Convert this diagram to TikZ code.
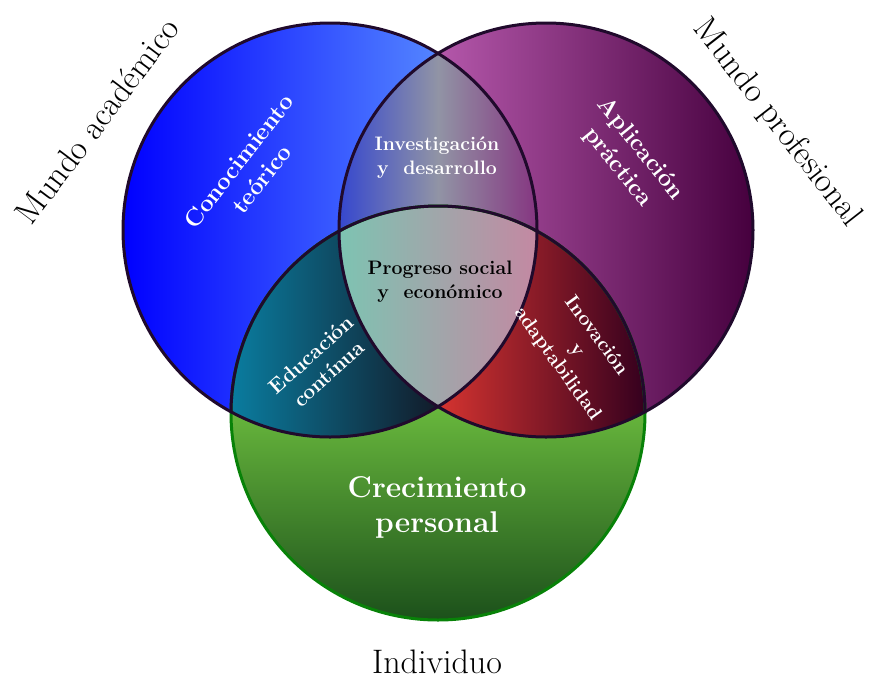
\documentclass[tikz,border=0pt]{standalone}
\usepackage{fontspec}
\definecolor{bordeoscuro}{RGB}{32,10,44}
\definecolor{bordeverde}{RGB}{8,130,8}
\definecolor{azulizq}{RGB}{0,0,255}
\definecolor{azulder}{RGB}{110,175,255}
\definecolor{moradoizq}{RGB}{215,115,205}
\definecolor{moradoder}{RGB}{70,0,62}
\definecolor{verdearriba}{RGB}{112,194,64}
\definecolor{verdeabajo}{RGB}{26,78,26}
\definecolor{lenteazul}{RGB}{12,36,225}
\definecolor{lentegris}{RGB}{145,148,165}
\definecolor{lentemorado}{RGB}{128,10,112}
\definecolor{centroizq}{RGB}{125,196,178}
\definecolor{centroder}{RGB}{196,136,162}
\definecolor{tealizq}{RGB}{10,125,160}
\definecolor{tealder}{RGB}{18,26,40}
\definecolor{rojoizq}{RGB}{215,52,48}
\definecolor{rojoder}{RGB}{52,0,30}
\pgfdeclarehorizontalshading{lente}{100bp}{color(0bp)=(lenteazul); color(14bp)=(lenteazul);
    color(32bp)=(lenteazul!50!lentegris); color(50bp)=(lentegris); color(68bp)=(lentegris!50!lentemorado);
    color(86bp)=(lentemorado); color(100bp)=(lentemorado)}
\tikzset{
    borde/.style = {line width = 3pt, draw = bordeoscuro},
    etiqueta/.style = {text = white, font = \bfseries, align = center},
    exterior/.style = {text = black, align = center, font = \fontsize{34}{40}\selectfont}
}
\newcommand{\radio}{207}
\begin{document}
\begin{tikzpicture}[x = 1pt, y = -1pt]
    \useasboundingbox (0,0) rectangle (870,681);
    \coordinate (academico) at (330,230);
    \coordinate (profesional) at (546,230);
    \coordinate (individuo) at (438,413);
    % circulos
    \shade[left color = azulizq, right color = azulder] (academico) circle (\radio);
    \shade[left color = moradoizq, right color = moradoder] (profesional) circle (\radio);
    \begin{scope}
        \clip (individuo) circle (\radio);
        \shade[top color = verdearriba, bottom color = verdeabajo] (225,385) rectangle (655,625);
    \end{scope}
    % intersecciones
    \begin{scope}
        \clip (academico) circle (\radio);
        \clip (profesional) circle (\radio);
        \shade[shading = lente] (338,20) rectangle (538,440);
    \end{scope}
    \begin{scope}
        \clip (academico) circle (\radio);
        \clip (individuo) circle (\radio);
        \shade[left color = tealizq, right color = tealder] (230,205) rectangle (440,435);
    \end{scope}
    \begin{scope}
        \clip (profesional) circle (\radio);
        \clip (individuo) circle (\radio);
        \shade[left color = rojoizq, right color = rojoder] (436,205) rectangle (646,435);
    \end{scope}
    \begin{scope}
        \clip (academico) circle (\radio);
        \clip (profesional) circle (\radio);
        \clip (individuo) circle (\radio);
        \shade[left color = centroizq, right color = centroder] (338,200) rectangle (538,410);
    \end{scope}
    % bordes
    \draw[line width = 3pt, bordeverde] (individuo) circle (\radio);
    \begin{scope}
        \clip (academico) circle (\radio) (profesional) circle (\radio);
        \draw[borde] (individuo) circle (\radio);
    \end{scope}
    \draw[borde] (academico) circle (\radio);
    \draw[borde] (profesional) circle (\radio);
    % textos
    \node[exterior, rotate = 53] (mundoacad) at (97,121) {Mundo académico};
    \node[exterior, rotate = -52] (mundoprof) at (777,123) {Mundo profesional};
    \node[exterior, inner sep = 0pt] (indiv) at (437,662) {Individuo};
    \node[etiqueta, rotate = 52, font = \bfseries\fontsize{24}{29}\selectfont] (conoc) at (250,170) {Conocimiento\\teórico};
    \node[etiqueta, rotate = -51, font = \bfseries\fontsize{24}{29}\selectfont] (aplic) at (629,158) {Aplicación\\práctica};
    \node[etiqueta, font = \bfseries\fontsize{19.5}{24}\selectfont] (invest) at (437,158) {Investigación\\y~ desarrollo};
    \node[etiqueta, text = black, font = \bfseries\fontsize{19.5}{24}\selectfont] (progreso) at (440,282) {Progreso social\\y~ económico};
    \node[etiqueta, rotate = 42, font = \bfseries\fontsize{21}{26}\selectfont] (educ) at (320,364) {Educación\\contínua};
    \node[etiqueta, rotate = -54, font = \bfseries\fontsize{20}{24}\selectfont] (inov) at (577,350) {Inovación\\y\\adaptabilidad};
    \node[etiqueta, font = \bfseries\fontsize{30}{35}\selectfont] (crec) at (437,507) {Crecimiento\\personal};
\end{tikzpicture}
\end{document}
